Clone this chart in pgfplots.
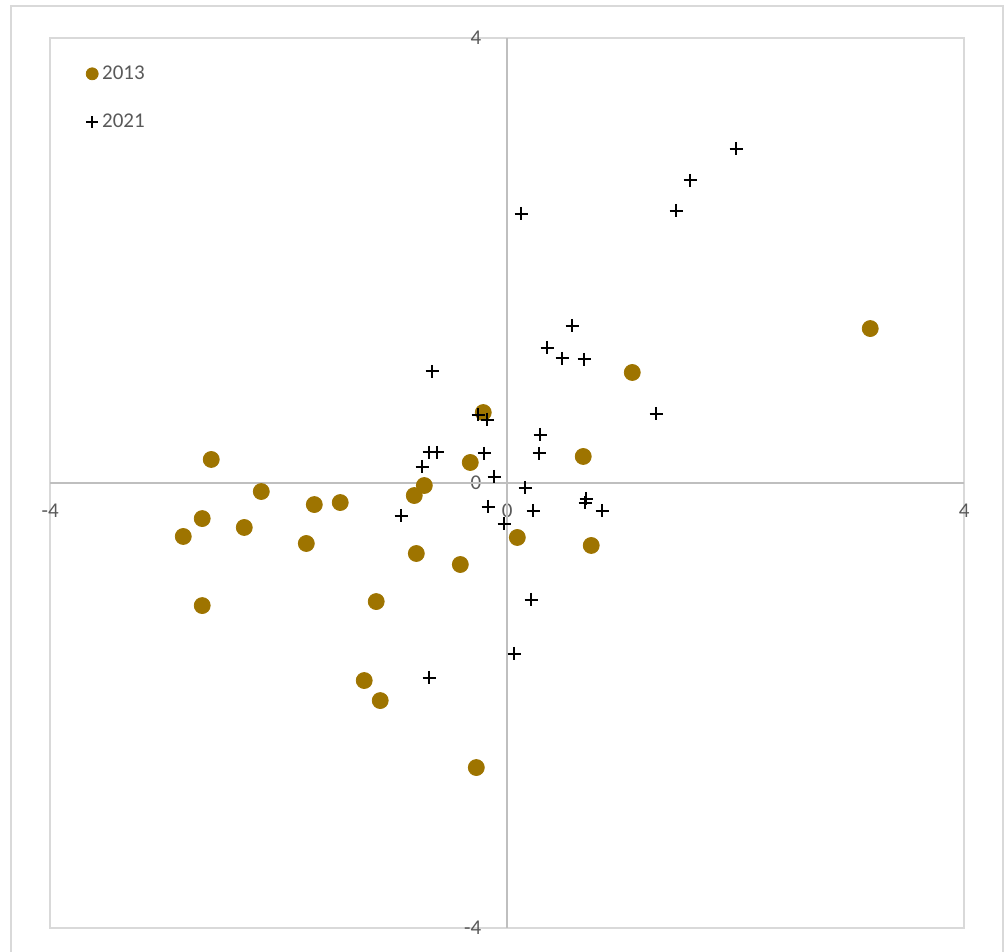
\documentclass[border=0pt]{standalone}
\usepackage{pgfplots}
\pgfplotsset{compat=1.18}
\usepackage{fontspec}
\setmainfont{Carlito}
\definecolor{gold}{RGB}{158,116,0}
\definecolor{tickgray}{RGB}{89,89,89}
\definecolor{axgray}{RGB}{191,191,191}
\definecolor{boxgray}{RGB}{217,217,217}
\begin{document}
\begin{tikzpicture}[x=0.5pt,y=0.5pt]
\useasboundingbox (0,0) rectangle (1006,952);
\draw[boxgray, line width=1.2pt] (11,-20) -- (11,946) -- (1003,946) -- (1003,-20);
\begin{axis}[
  at={(44,22)}, anchor=south west,
  scale only axis, width=457pt, height=445pt,
  xmin=-4, xmax=4, ymin=-4, ymax=4,
  axis line style={boxgray, line width=1pt},
  xtick={-4,0,4}, ytick={-4,0,4},
  xticklabels={-4,0,4}, yticklabels={-4,0,4},
  major tick length=0pt,
  xticklabel style={font=\fontsize{10.5}{12}\selectfont, text=tickgray, anchor=center, yshift=208.5pt},
  yticklabel style={font=\fontsize{10.5}{12}\selectfont, text=tickgray, anchor=east, xshift=219pt},
  legend style={at={(axis description cs:0.0345,0.978)}, anchor=north west,
    draw=none, fill=none, font=\fontsize{10.5}{12}\selectfont, text=tickgray,
    row sep=12pt, inner sep=2pt},
  legend image post style={mark size=3pt, xshift=-1pt},
  legend cell align=left,
  clip=false,
]
\draw[axgray, line width=1pt] (axis cs:-4,0) -- (axis cs:4,0);
\draw[axgray, line width=1pt] (axis cs:0,-4) -- (axis cs:0,4);
\addplot[only marks, mark=*, mark size=4pt, draw=gold, fill=gold] coordinates {
(3.177,1.384) (1.094,0.989) (-0.210,0.629) (0.665,0.234) (-0.324,0.180)
(-2.591,0.207) (-0.726,-0.027) (-2.153,-0.081) (-0.814,-0.117) (-1.462,-0.180)
(-1.689,-0.198) (-2.670,-0.324) (-2.302,-0.404) (-2.836,-0.485) (-1.759,-0.548)
(0.088,-0.494) (0.735,-0.566) (-0.796,-0.638) (-0.411,-0.737) (-1.147,-1.070)
(-2.670,-1.106) (-1.252,-1.780) (-1.112,-1.960) (-0.271,-2.562)
};
\addlegendentry{2013}
\addplot[only marks, mark=+, mark size=3.3pt, black, line width=1pt] coordinates {
(2.004,3.002) (1.602,2.715) (1.479,2.445) (0.123,2.418) (0.569,1.411)
(0.350,1.213) (0.481,1.115) (0.674,1.106) (-0.656,0.998) (1.304,0.620)
(-0.254,0.611) (-0.175,0.566) (0.289,0.431) (-0.683,0.270) (-0.613,0.270)
(-0.201,0.261) (0.280,0.261) (-0.744,0.144) (-0.114,0.054) (0.158,-0.045)
(0.691,-0.144) (0.683,-0.180) (0.832,-0.252) (0.228,-0.252) (-0.166,-0.216)
(-0.928,-0.297) (-0.026,-0.369) (0.210,-1.052) (0.061,-1.537) (-0.683,-1.753)
};
\addlegendentry{2021}
\end{axis}
\end{tikzpicture}
\end{document}
